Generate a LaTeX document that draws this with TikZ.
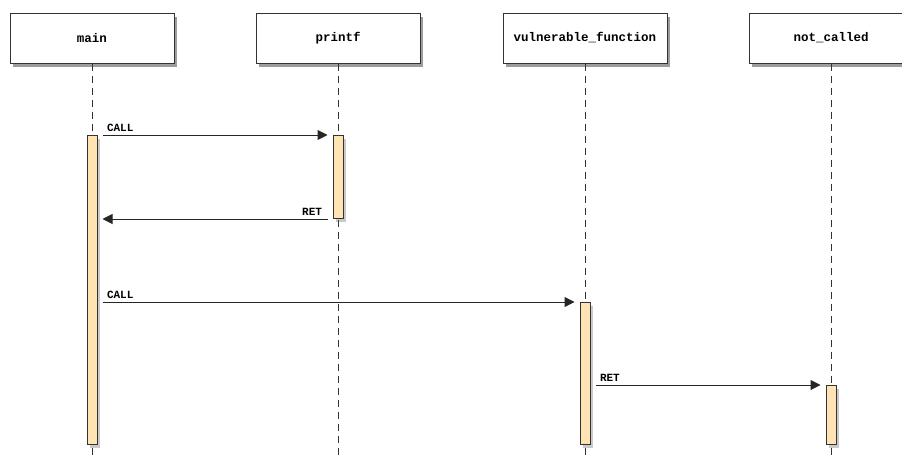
\documentclass[tikz,border=0pt]{standalone}
\usepackage{fontspec}
\setmonofont{Liberation Mono}
\usetikzlibrary{shadows,arrows.meta}
\definecolor{barfill}{HTML}{FFE3B3}
\definecolor{linegray}{HTML}{333333}
\begin{document}
\begin{tikzpicture}[x=1pt,y=-1pt,
  actor/.style={draw=linegray, fill=white, line width=1pt, minimum width=164pt, minimum height=50pt,
    inner sep=0pt, font=\ttfamily\bfseries\fontsize{12.5}{14}\selectfont,
    drop shadow={shadow xshift=3pt, shadow yshift=-4pt, opacity=0.55, fill=black!70}},
  actbar/.style={draw=linegray, fill=barfill, line width=1pt, minimum width=10pt, inner sep=0pt, anchor=north,
    drop shadow={shadow xshift=3pt, shadow yshift=-3pt, opacity=0.35, fill=black!60}},
  lifeline/.style={draw=linegray, line width=1pt, dash pattern=on 7pt off 5pt},
  msg/.style={draw=black!85, line width=1pt, -{Triangle[length=10pt,width=10pt]}},
  lbl/.style={font=\ttfamily\bfseries\fontsize{11}{12}\selectfont, inner sep=1pt}
]
\useasboundingbox (0,0) rectangle (902,455);

% lifelines
\coordinate (mend) at (92,455);
\coordinate (pend) at (338,455);
\coordinate (vend) at (585,455);
\coordinate (nend) at (831,455);

\node[actor] (m) at (92,38) {main};
\node[actor] (p) at (338,38) {printf};
\node[actor] (v) at (585,38) {vulnerable\_function};
\node[actor] (n) at (831,38) {not\_called};

\draw[lifeline] (m.south) -- (mend);
\draw[lifeline] (p.south) -- (pend);
\draw[lifeline] (v.south) -- (vend);
\draw[lifeline] (n.south) -- (nend);

% activation bars
\node[actbar, minimum height=309pt] (ma) at (92,135) {};
\node[actbar, minimum height=83pt] (pa) at (338,135) {};
\node[actbar, minimum height=142pt] (va) at (585,302) {};
\node[actbar, minimum height=59pt] (na) at (831,385) {};

% messages
\draw[msg] ([xshift=5pt]ma.north east) -- node[lbl, pos=0, anchor=south west, xshift=3pt, yshift=2pt] {CALL} ([xshift=-5pt]pa.north west);
\draw[msg] ([xshift=-5pt]pa.south west) -- node[lbl, pos=0, anchor=south east, xshift=-4pt, yshift=2pt] {RET} ([xshift=5pt]ma.east |- pa.south west);
\draw[msg] ([xshift=5pt]ma.east |- va.north west) -- node[lbl, pos=0, anchor=south west, xshift=3pt, yshift=2pt] {CALL} ([xshift=-5pt]va.north west);
\draw[msg] ([xshift=5pt]va.east |- na.north west) -- node[lbl, pos=0, anchor=south west, xshift=3pt, yshift=2pt] {RET} ([xshift=-5pt]na.north west);
\end{tikzpicture}
\end{document}
